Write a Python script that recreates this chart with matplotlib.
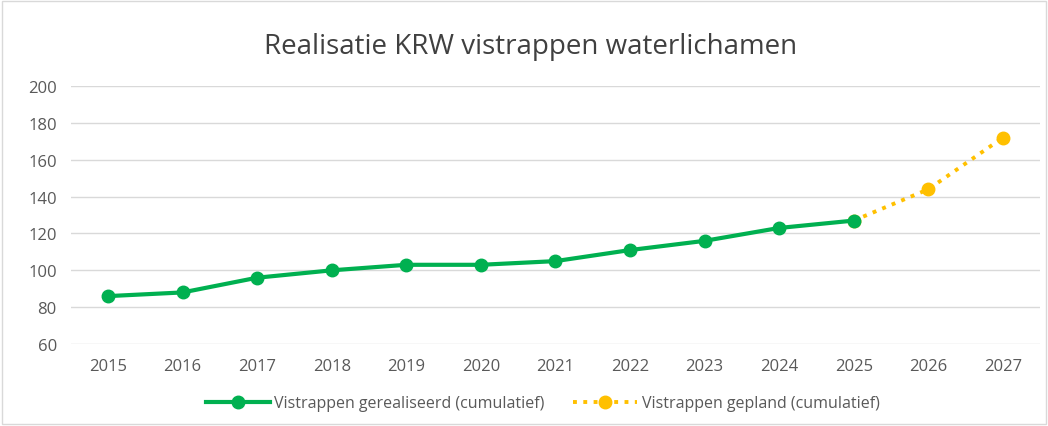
import matplotlib
matplotlib.use("Agg")
import matplotlib.pyplot as plt
from matplotlib.patches import Rectangle

years = ["2015", "2016", "2017", "2018", "2019", "2020", "2021",
         "2022", "2023", "2024", "2025", "2026", "2027"]
realised = [86, 88, 96, 100, 103, 103, 105, 111, 116, 123, 127]
planned_years = ["2025", "2026", "2027"]
planned = [127, 144, 172]
yticks = [60, 80, 100, 120, 140, 160, 180, 200]

green = "#00B050"
orange = "#FFC000"
grey_text = "#595959"

plt.rcParams["font.family"] = ["Open Sans", "DejaVu Sans"]

fig = plt.figure(figsize=(10.48, 4.27), dpi=100)
fig.patches.append(Rectangle((0.002, 0.004), 0.996, 0.992,
                             transform=fig.transFigure,
                             fill=False, edgecolor="#D9D9D9", lw=1))
ax = fig.add_axes([0.0675, 0.192, 0.925, 0.604])

x_all = list(range(len(years)))
x_real = [years.index(y) for y in years[:len(realised)]]
x_plan = [years.index(y) for y in planned_years]

ax.plot(x_plan, planned, color=orange, ls=":", lw=2.8,
        marker="o", markersize=9, label="Vistrappen gepland (cumulatief)",
        zorder=2)
ax.plot(x_real, realised, color=green, ls="-", lw=3,
        marker="o", markersize=9, label="Vistrappen gerealiseerd (cumulatief)",
        zorder=3)

ax.set_xlim(-0.5, len(years) - 0.5)
ax.set_ylim(60, 200)
ax.set_yticks(yticks)
ax.set_xticks(x_all)
ax.set_xticklabels(years)
ax.tick_params(axis="both", length=0, labelsize=12, colors=grey_text, pad=10)
ax.tick_params(axis="y", pad=10)
ax.grid(axis="y", color="#D9D9D9", lw=1)
ax.set_axisbelow(True)
for side in ["top", "right", "left", "bottom"]:
    ax.spines[side].set_visible(False)

ax.set_title("Realisatie KRW vistrappen waterlichamen", fontsize=20,
             color="#404040", pad=24, x=0.474)

handles, labels = ax.get_legend_handles_labels()
fig.legend(handles[::-1], labels[::-1], loc="center", ncol=2,
           bbox_to_anchor=(0.518, 0.053), frameon=False, fontsize=11.5,
           labelcolor=grey_text, handlelength=4, handletextpad=0.3,
           columnspacing=1.8)

fig.savefig("out.png", dpi=100)
